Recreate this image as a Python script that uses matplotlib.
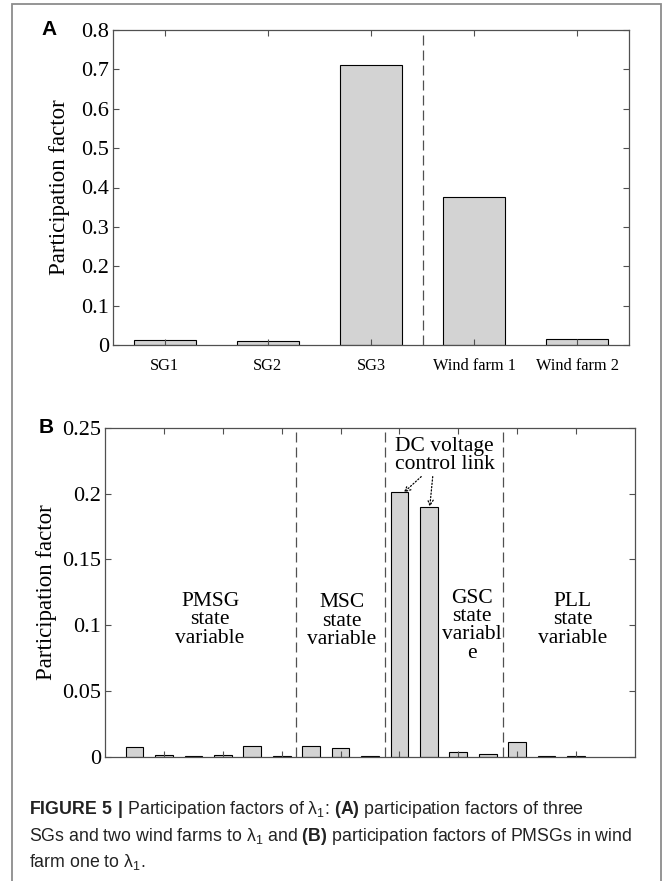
import matplotlib
matplotlib.use('Agg')
import matplotlib.pyplot as plt
from matplotlib.patches import Rectangle

# panel A: participation factors of generators
gen_names = ['SG1', 'SG2', 'SG3', 'Wind farm 1', 'Wind farm 2']
gen_pf = [0.013, 0.009, 0.711, 0.375, 0.016]
gen_split = 3.5

# panel B: participation factors of PMSG state variables (wind farm 1)
pmsg_pf = [0.0072, 0.0015, 0.0003, 0.0015, 0.0079, 0.0002, 0.0079, 0.0066,
           0.0002, 0.201, 0.190, 0.0034, 0.0018, 0.011, 0.0005, 0.0004]
group_splits = [6.5, 9.5, 13.5]
group_labels = ['PMSG\nstate\nvariable', 'MSC\nstate\nvariable',
                'GSC\nstate\nvariabl\ne', 'PLL\nstate\nvariable']
group_x = [3.57, 8.05, 12.47, 15.88]
group_y = [0.104, 0.103, 0.0995, 0.104]

serif = 'Liberation Serif'
bar_color = '#d3d3d3'
spine_color = '#505050'

plt.rcParams['mathtext.fontset'] = 'custom'
plt.rcParams['mathtext.rm'] = 'Liberation Sans'
plt.rcParams['mathtext.bf'] = 'Liberation Sans:bold'
plt.rcParams['mathtext.default'] = 'regular'

fig = plt.figure(figsize=(6.64, 8.81), dpi=100)

# outer frame
fig.patches.append(Rectangle((12 / 664, -0.02), 649 / 664, 1.02 - 4 / 881,
                             transform=fig.transFigure, fill=False,
                             edgecolor='#8c8c8c', lw=1.3))


def style_axes(ax):
    for s in ax.spines.values():
        s.set_color(spine_color)
        s.set_linewidth(0.9)
    ax.tick_params(direction='in', length=4, width=0.8, color=spine_color,
                   top=True, right=True)
    for lab in ax.get_yticklabels():
        lab.set_fontfamily(serif)
        lab.set_fontsize(16)


# ---- panel A
axA = fig.add_axes([113 / 664, 1 - 345 / 881, 516 / 664, 315 / 881])
xa = list(range(1, len(gen_names) + 1))
axA.bar(xa, gen_pf, width=0.6, color=bar_color, edgecolor='black', lw=0.8)
axA.axvline(gen_split, color=spine_color, ls=(0, (8, 4)), lw=0.9)
axA.set_xlim(0.5, 5.5)
axA.set_ylim(0, 0.8)
axA.set_xticks(xa)
axA.set_xticklabels(gen_names, fontfamily=serif, fontsize=11.8)
axA.set_yticks([0, 0.1, 0.2, 0.3, 0.4, 0.5, 0.6, 0.7, 0.8])
axA.set_yticklabels(['0', '0.1', '0.2', '0.3', '0.4', '0.5', '0.6', '0.7', '0.8'])
style_axes(axA)
axA.tick_params(axis='x', pad=9)
axA.tick_params(axis='y', pad=3)
axA.set_ylabel('Participation factor', fontfamily=serif, fontsize=16.5)
axA.yaxis.set_label_coords(-0.083, 0.5)
fig.text(49.5 / 664, 1 - 29.5 / 881, 'A', fontfamily='Liberation Sans',
         fontweight='bold', fontsize=15, ha='center', va='center')

# ---- panel B
axB = fig.add_axes([105 / 664, 1 - 756.5 / 881, 530 / 664, 328.5 / 881])
xb = list(range(1, len(pmsg_pf) + 1))
axB.bar(xb, pmsg_pf, width=0.6, color=bar_color, edgecolor='black', lw=0.8)
for xs in group_splits:
    axB.axvline(xs, color=spine_color, ls=(0, (8, 4)), lw=0.9)
axB.set_xlim(0, 18)
axB.set_ylim(0, 0.25)
axB.set_xticks(range(2, 17, 2))
axB.set_xticklabels([])
axB.set_yticks([0, 0.05, 0.1, 0.15, 0.2, 0.25])
axB.set_yticklabels(['0', '0.05', '0.1', '0.15', '0.2', '0.25'])
style_axes(axB)
axB.tick_params(axis='y', pad=3)
axB.set_ylabel('Participation factor', fontfamily=serif, fontsize=16.5)
axB.yaxis.set_label_coords(-0.0906, 0.5)

for lab, gx, gy in zip(group_labels, group_x, group_y):
    axB.text(gx, gy, lab, fontfamily=serif, fontsize=15.5, ha='center',
             va='center', linespacing=0.95)

axB.text(11.53, 0.229, 'DC voltage\ncontrol link', fontfamily=serif,
         fontsize=15.5, ha='center', va='center', linespacing=0.95)
arrow_kw = dict(arrowstyle='->', linestyle=':', lw=0.9, color='black',
                shrinkA=0, shrinkB=0)
axB.annotate('', xy=(10.15, pmsg_pf[9]), xytext=(10.74, 0.213), arrowprops=arrow_kw)
axB.annotate('', xy=(11.03, pmsg_pf[10]), xytext=(11.13, 0.213), arrowprops=arrow_kw)

fig.text(46 / 664, 1 - 427 / 881, 'B', fontfamily='Liberation Sans',
         fontweight='bold', fontsize=15, ha='center', va='center')

# ---- caption
cap_lines = [
    r'$\mathbf{FIGURE\ 5\ |}$ Participation factors of λ$_1$: $\mathbf{(A)}$ participation factors of three',
    r'SGs and two wind farms to λ$_1$ and $\mathbf{(B)}$ participation factors of PMSGs in wind',
    r'farm one to λ$_1$.',
]
cap_y = [810, 836.5, 861.5]
for line, y in zip(cap_lines, cap_y):
    fig.text(29 / 664, 1 - y / 881, line, fontfamily='Liberation Sans',
             fontsize=12.75, ha='left', va='center', color='#222222')

fig.savefig('out.png', dpi=100)
